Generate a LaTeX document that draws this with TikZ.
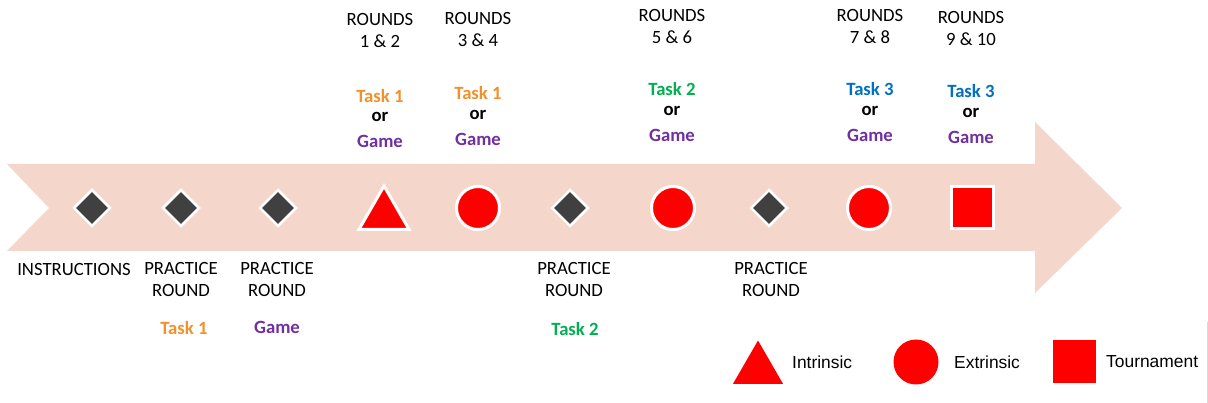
\documentclass[tikz,border=0pt]{standalone}
\usepackage{fontspec}
\setmainfont{Carlito}
\newfontfamily\legfont{Liberation Sans}
\usepackage{tikz}
\usetikzlibrary{shapes.geometric}
\definecolor{peach}{RGB}{244,215,202}
\definecolor{mark}{RGB}{64,64,64}
\definecolor{tone}{RGB}{240,145,45}
\definecolor{ttwo}{RGB}{0,176,80}
\definecolor{tthree}{RGB}{0,112,192}
\definecolor{game}{RGB}{112,48,160}
\tikzset{dia/.style={diamond,aspect=1,fill=mark,draw=white,line width=2.5pt,minimum size=37pt,inner sep=0pt},
         circ/.style={circle,fill=red,draw=white,line width=3pt,minimum size=43pt,inner sep=0pt},
         tri/.style={regular polygon,regular polygon sides=3,fill=red,draw=white,line width=3pt,minimum size=58pt,inner sep=0pt},
         sq/.style={rectangle,fill=red,draw=white,line width=3pt,minimum size=42pt,inner sep=0pt},
         lab/.style={align=center,inner sep=0pt,font=\fontsize{18.7}{22}\selectfont},
         tsk/.style={inner sep=0pt,font=\fontsize{18.7}{22}\selectfont\bfseries},
         leg/.style={anchor=west,inner sep=0pt,font=\legfont\fontsize{17.4}{20}\selectfont}
         }

\begin{document}
\begin{tikzpicture}[x=1pt,y=-1pt]
        \useasboundingbox (0,0) rectangle (1208,403);
        % the timeline arrow
        \fill[peach] (7,164) -- (1035,164) -- (1035,122) -- (1122,208) -- (1035,293)
            -- (1035,251) -- (7,251) -- (49,208) -- cycle;
        \draw[black!15,line width=0.8pt] (1207,322) -- (1207,403);

        \node[dia] (M1) at (92,208) {};
        \node[dia] (M2) at (181,208) {};
        \node[dia] (M3) at (278,208) {};
        \node[tri] (M4) at (384,215) {};
        \node[circ] (M5) at (478,208) {};
        \node[dia] (M6) at (570,208) {};
        \node[circ] (M7) at (673,208) {};
        \node[dia] (M8) at (769,208) {};
        \node[circ] (M9) at (869,208) {};
        \node[sq] (M10) at (972,208) {};

        % rounds above
        \node[lab] (R12) at (380,31) {ROUNDS\\1 \& 2};
        \node[lab] (R34) at (478,30) {ROUNDS\\3 \& 4};
        \node[lab] (R56) at (672,27) {ROUNDS\\5 \& 6};
        \node[lab] (R78) at (870,27) {ROUNDS\\7 \& 8};
        \node[lab] (R910) at (971,29) {ROUNDS\\9 \& 10};

        \node[tsk,tone] (T12) at (380,96) {Task 1};
        \node[tsk] (O12) at (380,117) {or};
        \node[tsk,game] (G12) at (380,141) {Game};
        \node[tsk,tone] (T34) at (478,93) {Task 1};
        \node[tsk] (O34) at (478,115) {or};
        \node[tsk,game] (G34) at (478,139) {Game};
        \node[tsk,ttwo] (T56) at (672,89) {Task 2};
        \node[tsk] (O56) at (672,111) {or};
        \node[tsk,game] (G56) at (672,135) {Game};
        \node[tsk,tthree] (T78) at (870,89) {Task 3};
        \node[tsk] (O78) at (870,111) {or};
        \node[tsk,game] (G78) at (870,135) {Game};
        \node[tsk,tthree] (T910) at (971,91) {Task 3};
        \node[tsk] (O910) at (971,113) {or};
        \node[tsk,game] (G910) at (971,137) {Game};

        % labels below
        \node[lab] (L1) at (74,270) {INSTRUCTIONS};
        \node[lab] (L2) at (181,280) {PRACTICE\\ROUND};
        \node[lab] (L3) at (277,280) {PRACTICE\\ROUND};
        \node[lab] (L6) at (574,280) {PRACTICE\\ROUND};
        \node[lab] (L8) at (771,280) {PRACTICE\\ROUND};
        \node[tsk,tone] (P2) at (184,328) {Task 1};
        \node[tsk,game] (P3) at (277,327) {Game};
        \node[tsk,ttwo] (P6) at (575,329) {Task 2};

        % legend
        \node[tri,draw=none,minimum size=58pt] (K1) at (758,369.5) {};
        \node[leg] (K1t) at (792,362) {Intrinsic};
        \node[circ,draw=none,minimum size=45pt] (K2) at (916,362) {};
        \node[leg] (K2t) at (954,362) {Extrinsic};
        \node[sq,draw=none,minimum size=43pt] (K3) at (1074.5,362) {};
        \node[leg] (K3t) at (1106,362) {Tournament};
\end{tikzpicture}
\end{document}
